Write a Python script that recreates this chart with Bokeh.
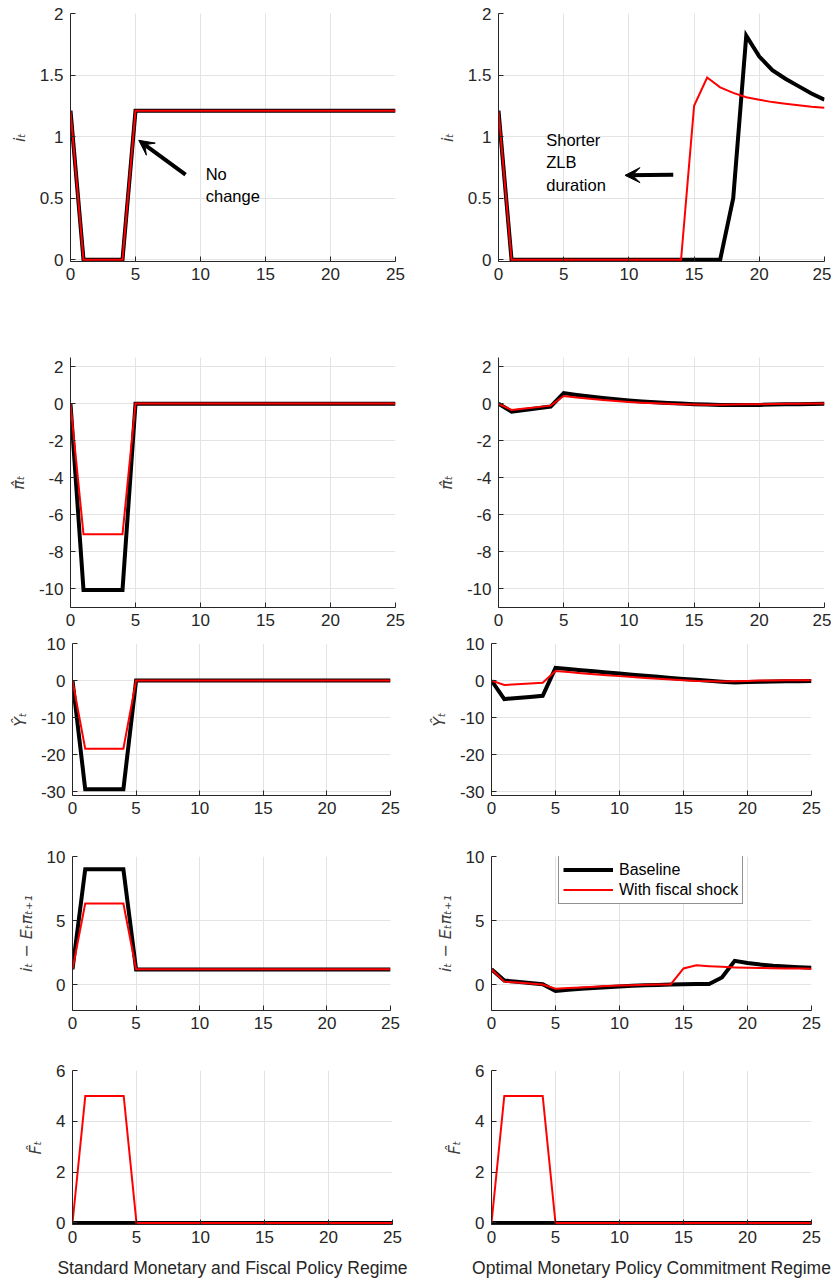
from bokeh.plotting import figure
from bokeh.layouts import column, row
from bokeh.models import FixedTicker, Range1d, Arrow, VeeHead, Label
from bokeh.embed import file_html
from bokeh.resources import INLINE

# ---------------- data ----------------
t = [0, 1, 2, 3, 4, 5, 6, 7, 8, 9, 10, 11, 12, 13, 14, 15, 16, 17, 18, 19, 20, 21, 22, 23, 24, 25]

# Standard monetary and fiscal policy regime
std_i_base = [1.21, 0.0, 0.0, 0.0, 0.0, 1.21, 1.21, 1.21, 1.21, 1.21, 1.21, 1.21, 1.21,
              1.21, 1.21, 1.21, 1.21, 1.21, 1.21, 1.21, 1.21, 1.21, 1.21, 1.21, 1.21, 1.21]
std_i_fisc = [1.21, 0.0, 0.0, 0.0, 0.0, 1.21, 1.21, 1.21, 1.21, 1.21, 1.21, 1.21, 1.21,
              1.21, 1.21, 1.21, 1.21, 1.21, 1.21, 1.21, 1.21, 1.21, 1.21, 1.21, 1.21, 1.21]
std_pi_base = [0.0, -10.05, -10.05, -10.05, -10.05, 0.0, 0.0, 0.0, 0.0, 0.0, 0.0, 0.0, 0.0,
               0.0, 0.0, 0.0, 0.0, 0.0, 0.0, 0.0, 0.0, 0.0, 0.0, 0.0, 0.0, 0.0]
std_pi_fisc = [0.0, -7.05, -7.05, -7.05, -7.05, 0.02, 0.02, 0.02, 0.02, 0.02, 0.02, 0.02, 0.02,
               0.02, 0.02, 0.02, 0.02, 0.02, 0.02, 0.02, 0.02, 0.02, 0.02, 0.02, 0.02, 0.02]
std_y_base = [0.0, -29.3, -29.3, -29.3, -29.3, 0.0, 0.0, 0.0, 0.0, 0.0, 0.0, 0.0, 0.0,
              0.0, 0.0, 0.0, 0.0, 0.0, 0.0, 0.0, 0.0, 0.0, 0.0, 0.0, 0.0, 0.0]
std_y_fisc = [0.0, -18.4, -18.4, -18.4, -18.4, 0.0, 0.0, 0.0, 0.0, 0.0, 0.0, 0.0, 0.0,
              0.0, 0.0, 0.0, 0.0, 0.0, 0.0, 0.0, 0.0, 0.0, 0.0, 0.0, 0.0, 0.0]
std_r_base = [1.21, 9.0, 9.0, 9.0, 9.0, 1.19, 1.19, 1.19, 1.19, 1.19, 1.19, 1.19, 1.19,
              1.19, 1.19, 1.19, 1.19, 1.19, 1.19, 1.19, 1.19, 1.19, 1.19, 1.19, 1.19, 1.19]
std_r_fisc = [1.21, 6.33, 6.33, 6.33, 6.33, 1.22, 1.22, 1.22, 1.22, 1.22, 1.22, 1.22, 1.22,
              1.22, 1.22, 1.22, 1.22, 1.22, 1.22, 1.22, 1.22, 1.22, 1.22, 1.22, 1.22, 1.22]
std_f_base = [0.0, 0.0, 0.0, 0.0, 0.0, 0.0, 0.0, 0.0, 0.0, 0.0, 0.0, 0.0, 0.0,
              0.0, 0.0, 0.0, 0.0, 0.0, 0.0, 0.0, 0.0, 0.0, 0.0, 0.0, 0.0, 0.0]
std_f_fisc = [0.0, 5.0, 5.0, 5.0, 5.0, 0.0, 0.0, 0.0, 0.0, 0.0, 0.0, 0.0, 0.0,
              0.0, 0.0, 0.0, 0.0, 0.0, 0.0, 0.0, 0.0, 0.0, 0.0, 0.0, 0.0, 0.0]

# Optimal monetary policy commitment regime
opt_i_base = [1.21, 0.0, 0.0, 0.0, 0.0, 0.0, 0.0, 0.0, 0.0, 0.0, 0.0, 0.0, 0.0,
              0.0, 0.0, 0.0, 0.0, 0.0, 0.5, 1.82, 1.65, 1.54, 1.47, 1.41, 1.35, 1.30]
opt_i_fisc = [1.21, 0.0, 0.0, 0.0, 0.0, 0.0, 0.0, 0.0, 0.0, 0.0, 0.0, 0.0, 0.0,
              0.0, 0.0, 1.25, 1.48, 1.40, 1.355, 1.32, 1.30, 1.28, 1.267, 1.254, 1.243, 1.235]
opt_pi_base = [0.0, -0.42, -0.33, -0.24, -0.15, 0.58, 0.48, 0.39, 0.31, 0.24, 0.18, 0.13, 0.08,
               0.04, 0.01, -0.02, -0.04, -0.06, -0.07, -0.07, -0.06, -0.04, -0.03, -0.02, -0.01, 0.0]
opt_pi_fisc = [0.0, -0.33, -0.26, -0.18, -0.1, 0.42, 0.34, 0.27, 0.2, 0.15, 0.1, 0.06, 0.03,
               0.0, -0.02, -0.04, -0.05, -0.05, -0.04, -0.03, -0.02, -0.01, 0.0, 0.0, 0.01, 0.01]
opt_y_base = [0.0, -5.0, -4.7, -4.4, -4.1, 3.4, 3.1, 2.8, 2.5, 2.2, 1.9, 1.6, 1.3,
              1.0, 0.7, 0.45, 0.2, -0.05, -0.3, -0.5, -0.4, -0.3, -0.25, -0.2, -0.15, -0.1]
opt_y_fisc = [0.0, -1.2, -1.0, -0.8, -0.6, 2.6, 2.3, 2.0, 1.7, 1.45, 1.2, 0.95, 0.7,
              0.5, 0.3, 0.1, -0.1, -0.2, -0.25, -0.2, -0.1, 0.0, 0.05, 0.1, 0.1, 0.1]
opt_r_base = [1.21, 0.33, 0.24, 0.15, 0.04, -0.48, -0.39, -0.31, -0.24, -0.18, -0.13, -0.08, -0.04,
              -0.01, 0.02, 0.04, 0.06, 0.07, 0.57, 1.87, 1.70, 1.58, 1.49, 1.43, 1.38, 1.34]
opt_r_fisc = [1.21, 0.25, 0.18, 0.1, 0.02, -0.3, -0.25, -0.2, -0.15, -0.1, -0.06, -0.03, 0.0,
              0.02, 0.03, 1.28, 1.52, 1.45, 1.40, 1.36, 1.33, 1.31, 1.29, 1.28, 1.27, 1.26]
opt_f_base = [0.0, 0.0, 0.0, 0.0, 0.0, 0.0, 0.0, 0.0, 0.0, 0.0, 0.0, 0.0, 0.0,
              0.0, 0.0, 0.0, 0.0, 0.0, 0.0, 0.0, 0.0, 0.0, 0.0, 0.0, 0.0, 0.0]
opt_f_fisc = [0.0, 5.0, 5.0, 5.0, 5.0, 0.0, 0.0, 0.0, 0.0, 0.0, 0.0, 0.0, 0.0,
              0.0, 0.0, 0.0, 0.0, 0.0, 0.0, 0.0, 0.0, 0.0, 0.0, 0.0, 0.0, 0.0]

x_ticks = [0, 5, 10, 15, 20, 25]
i_ticks = [0, 0.5, 1, 1.5, 2]
pi_ticks = [-10, -8, -6, -4, -2, 0, 2]
y_ticks = [-30, -20, -10, 0, 10]
r_ticks = [0, 5, 10]
f_ticks = [0, 2, 4, 6]

row_labels = ["iₜ", "π̂ₜ", "Ŷₜ", "iₜ − Eₜπₜ₊₁", "F̂ₜ"]
col_titles = ["Standard Monetary and Fiscal Policy Regime",
              "Optimal Monetary Policy Commitment Regime"]
legend_labels = ["Baseline", "With fiscal shock"]

# ---------------- styling helpers ----------------
TXT = "#262626"
FONT = "Liberation Sans"


def fmt(v):
    return str(int(v)) if float(v).is_integer() else str(v)


def make_fig(width, height, borders, yrange, yticks, ylabel, xlabel=None):
    bl, br, bt, bb = borders
    p = figure(width=width, height=height, output_backend="svg", toolbar_location=None,
               x_range=Range1d(0, 25), y_range=Range1d(*yrange),
               min_border_left=bl, min_border_right=br, min_border_top=bt, min_border_bottom=bb)
    p.outline_line_color = None
    p.background_fill_color = "white"
    p.border_fill_color = "white"
    p.xaxis.ticker = FixedTicker(ticks=x_ticks)
    p.yaxis.ticker = FixedTicker(ticks=yticks)
    p.xaxis.major_label_overrides = {v: fmt(v) for v in x_ticks}
    p.yaxis.major_label_overrides = {v: fmt(v) for v in yticks}
    for ax in (p.xaxis[0], p.yaxis[0]):
        ax.axis_line_color = TXT
        ax.axis_line_width = 1
        ax.major_tick_line_color = TXT
        ax.major_tick_in = 5
        ax.major_tick_out = 0
        ax.minor_tick_line_color = None
        ax.major_label_text_font = FONT
        ax.major_label_text_font_size = "17px"
        ax.major_label_text_color = TXT
    p.xaxis.major_label_standoff = 6
    p.yaxis.major_label_standoff = 7
    p.yaxis.axis_label = ylabel
    p.yaxis.axis_label_text_font = "DejaVu Sans"
    p.yaxis.axis_label_text_font_style = "italic"
    p.yaxis.axis_label_text_font_size = "16px"
    p.yaxis.axis_label_text_color = "#404040"
    p.yaxis.axis_label_standoff = 8
    if xlabel:
        p.xaxis.axis_label = xlabel
        p.xaxis.axis_label_text_font = FONT
        p.xaxis.axis_label_text_font_style = "normal"
        p.xaxis.axis_label_text_font_size = "17.5px"
        p.xaxis.axis_label_text_color = TXT
        p.xaxis.axis_label_standoff = 12
    p.xgrid.grid_line_color = "#e3e3e3"
    p.ygrid.grid_line_color = "#e3e3e3"
    p.xgrid.grid_line_width = 1
    p.ygrid.grid_line_width = 1
    return p


def draw(p, base, fisc, legend=False):
    if legend:
        p.line(t, base, line_color="black", line_width=4, line_join="miter", legend_label=legend_labels[0])
        p.line(t, fisc, line_color="#ff0000", line_width=2, line_join="miter", legend_label=legend_labels[1])
    else:
        p.line(t, base, line_color="black", line_width=4, line_join="miter")
        p.line(t, fisc, line_color="#ff0000", line_width=2, line_join="miter")


LW, RW = 420, 411
# borders: left, right, top, bottom
rows_spec = [
    (340, (70, 25, 13, 79), (78, 7, 13, 79), (-0.015, 2), i_ticks,
     (std_i_base, std_i_fisc), (opt_i_base, opt_i_fisc)),
    (295, (70, 25, 17, 28), (78, 7, 17, 28), (-11, 2.5), pi_ticks,
     (std_pi_base, std_pi_fisc), (opt_pi_base, opt_pi_fisc)),
    (205, (72, 30, 8, 45), (71, 20, 8, 45), (-31, 10), y_ticks,
     (std_y_base, std_y_fisc), (opt_y_base, opt_y_fisc)),
    (210, (72, 30, 16, 40), (71, 20, 16, 40), (-2, 10), r_ticks,
     (std_r_base, std_r_fisc), (opt_r_base, opt_r_fisc)),
    (231, (72, 28, 20, 57), (71, 20, 20, 57), (-0.06, 6), f_ticks,
     (std_f_base, std_f_fisc), (opt_f_base, opt_f_fisc)),
]

rows = []
figs = []
for k, (h, bleft, bright, yr, ticks, ldata, rdata) in enumerate(rows_spec):
    last = k == len(rows_spec) - 1
    pl = make_fig(LW, h, bleft, yr, ticks, row_labels[k], col_titles[0] if last else None)
    pr = make_fig(RW, h, bright, yr, ticks, row_labels[k], col_titles[1] if last else None)
    draw(pl, *ldata)
    draw(pr, *rdata, legend=(k == 3))
    figs.append((pl, pr))
    rows.append(row(pl, pr, spacing=0))

# legend styling (row 4, right)
leg_fig = figs[3][1]
lg = leg_fig.legend[0]
lg.location = (67, 106)
lg.label_text_font = FONT
lg.label_text_font_size = "16px"
lg.label_text_color = "black"
lg.glyph_width = 50
lg.glyph_height = 19
lg.label_height = 19
lg.label_standoff = 6
lg.spacing = 1
lg.padding = 4
lg.margin = 0
lg.border_line_color = TXT
lg.border_line_width = 1
lg.background_fill_alpha = 1

# annotations
ann_font_size = "16.5px"
p1l, p1r = figs[0]
p1l.add_layout(Arrow(end=VeeHead(size=15, fill_color="black", line_color="black"),
                     x_start=8.85, y_start=0.69, x_end=5.25, y_end=0.97,
                     line_color="black", line_width=4))
for txt, yy in (("No", 0.70), ("change", 0.52)):
    p1l.add_layout(Label(x=10.4, y=yy, text=txt, text_font=FONT, text_font_size=ann_font_size,
                         text_color="black", text_baseline="middle", text_align="left"))

p1r.add_layout(Arrow(end=VeeHead(size=15, fill_color="black", line_color="black"),
                     x_start=13.4, y_start=0.69, x_end=9.7, y_end=0.685,
                     line_color="black", line_width=4))
for txt, yy in (("Shorter", 0.97), ("ZLB", 0.79), ("duration", 0.61)):
    p1r.add_layout(Label(x=3.66, y=yy, text=txt, text_font=FONT, text_font_size=ann_font_size,
                         text_color="black", text_baseline="middle", text_align="left"))

layout = column(*rows, spacing=0)
open("out.html", "w").write(file_html(layout, INLINE))
